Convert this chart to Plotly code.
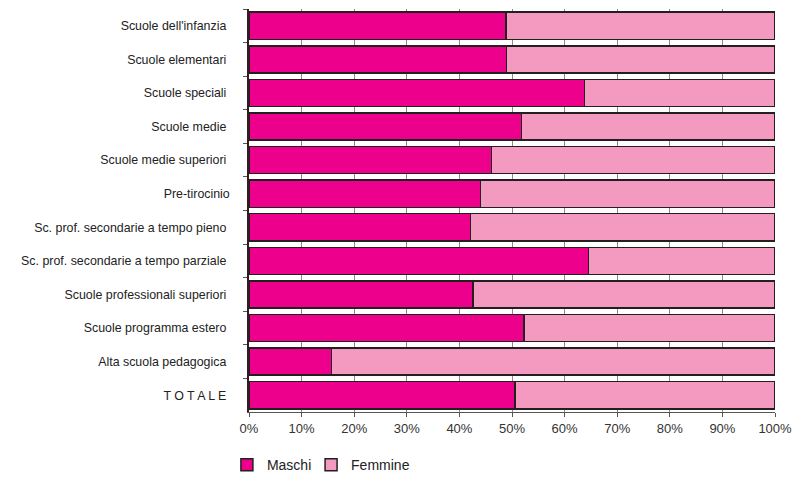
import plotly.graph_objects as go

categories = [
    "Scuole dell'infanzia ",
    "Scuole elementari ",
    "Scuole speciali ",
    "Scuole medie ",
    "Scuole medie superiori ",
    "Pre-tirocinio",
    "Sc. prof. secondarie a tempo pieno ",
    "Sc. prof. secondarie a tempo parziale ",
    "Scuole professionali superiori ",
    "Scuole programma estero ",
    "Alta scuola pedagogica ",
    "T O T A L E ",
]
maschi = [48.9, 49.0, 63.8, 51.8, 46.1, 44.0, 42.1, 64.5, 42.6, 52.3, 15.7, 50.6]
femmine = [round(100 - v, 1) for v in maschi]
x_ticks = [0, 10, 20, 30, 40, 50, 60, 70, 80, 90, 100]
x_tick_labels = [f"{t}%" for t in x_ticks]

outline = dict(color="#231f20", width=1.5)

fig = go.Figure()
fig.add_trace(go.Bar(y=categories, x=maschi, name="Maschi", orientation="h",
                     marker=dict(color="#EC008C", line=outline), legend="legend"))
fig.add_trace(go.Bar(y=categories, x=femmine, name="Femmine", orientation="h",
                     marker=dict(color="#F49AC1", line=outline), legend="legend2"))

legend_common = dict(orientation="h", xanchor="left", y=-0.132, yanchor="middle",
                     font=dict(size=14, color="#222"), itemwidth=30,
                     bgcolor="rgba(0,0,0,0)")

fig.update_layout(
    barmode="stack",
    bargap=0.19,
    width=796, height=479,
    margin=dict(l=249, r=21, t=9, b=67, autoexpand=False),
    paper_bgcolor="white",
    plot_bgcolor="white",
    font=dict(family="Liberation Sans, Arial, sans-serif", color="#222"),
    showlegend=True,
    legend=dict(x=-0.042, **legend_common),
    legend2=dict(x=0.118, **legend_common),
    xaxis=dict(range=[0, 100], tickvals=x_ticks, ticktext=x_tick_labels,
               showgrid=True, gridcolor="#8a8a8a", gridwidth=1,
               showline=True, linecolor="#555", linewidth=1,
               ticks="outside", ticklen=4, tickcolor="#555", automargin=False,
               tickfont=dict(size=13, color="#333"), zeroline=False),
    yaxis=dict(autorange="reversed", showline=True, linecolor="#3a1a22", linewidth=1.5,
               ticks="outside", ticklen=4, tickcolor="#555", tickson="boundaries",
               automargin=False,
               tickfont=dict(size=12.4, color="#222"), ticklabelstandoff=15),
)

fig.write_html("out.html", post_script="document.body.style.margin='0';",
               config={"displayModeBar": False})
